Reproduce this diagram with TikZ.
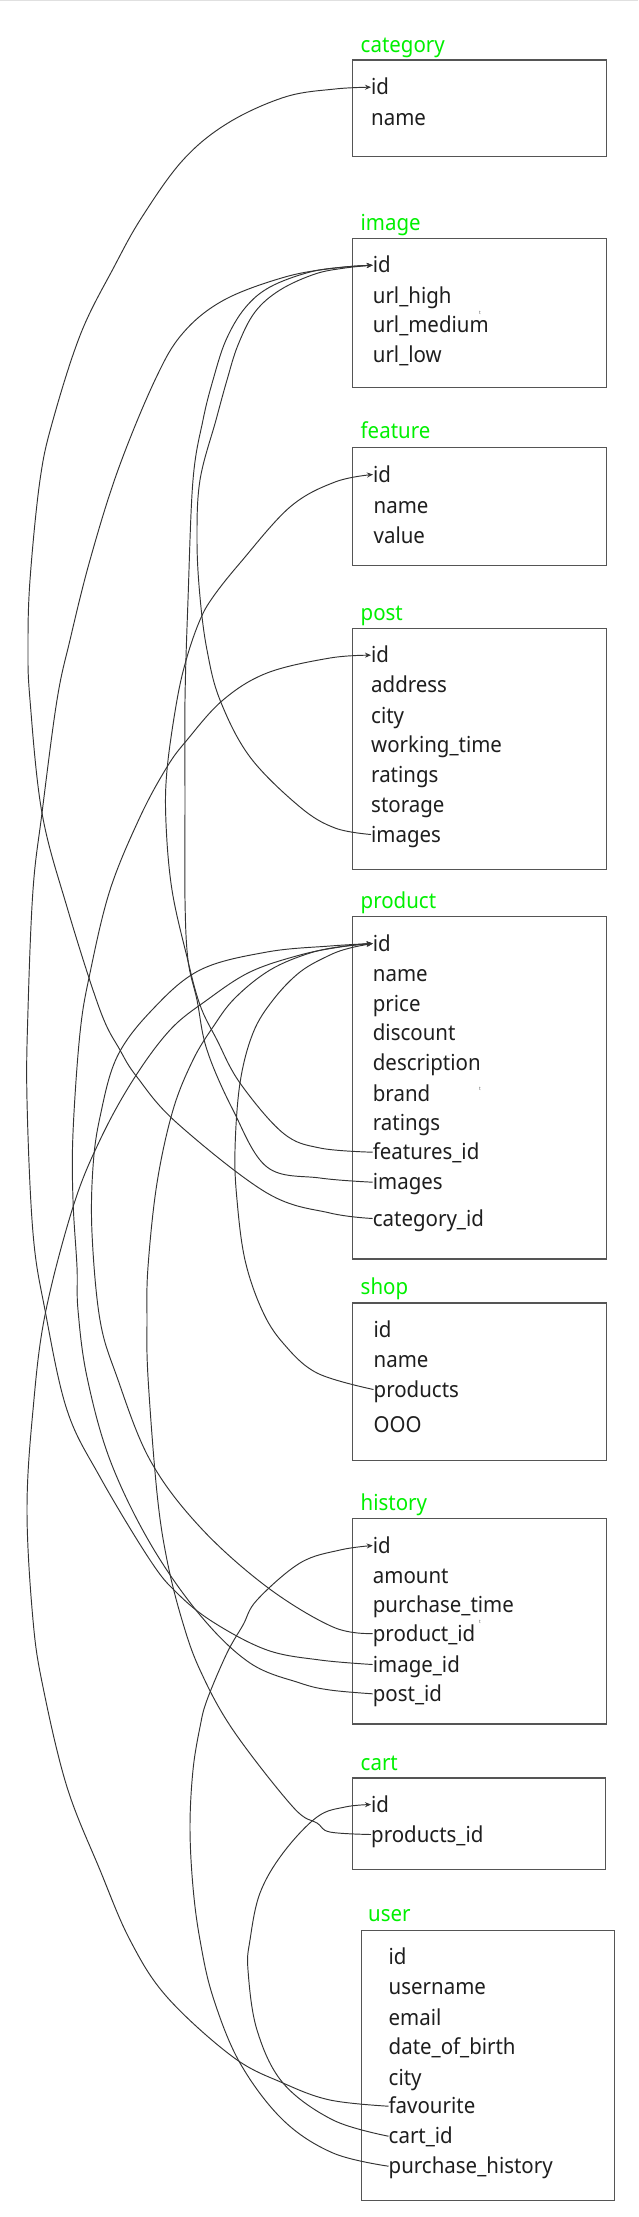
\documentclass[tikz,border=0pt]{standalone}
\usepackage{fontspec}
\newfontfamily\nsans[FakeStretch=0.93]{Noto Sans}
\usetikzlibrary{arrows.meta}
\definecolor{ttlc}{HTML}{00F000}
\definecolor{txtc}{HTML}{1E1E1E}
\definecolor{boxc}{HTML}{555555}
\definecolor{linec}{HTML}{333333}
\tikzset{
  fld/.style={anchor=base west, inner sep=0pt, text height=15pt, text depth=0pt, font=\nsans\fontsize{22}{26}\selectfont, text=txtc},
  ttlst/.style={anchor=base west, inner sep=0pt, font=\nsans\fontsize{22}{26}\selectfont, text=ttlc},
  tbl/.style={draw=boxc, line width=1.3pt, anchor=north west, inner sep=0pt, fill=none},
  tiny/.style={inner sep=0pt, font=\nsans\fontsize{5}{6}\selectfont, text=txtc!70},
  conn/.style={draw=linec, line width=0.95pt},
  arr/.style={conn, -{Stealth[length=6pt,width=5pt]}},
  sm/.style={smooth, tension=0.6}
}
\begin{document}
\begin{tikzpicture}[x=1pt,y=-1pt]
\fill[white] (0,0) rectangle (638,2217);
\useasboundingbox (0,0) rectangle (638,2217);
\draw[black!12, line width=1pt] (0,0.5) -- (638,0.5);

% ---------- tables ----------
\node[tbl, minimum width=254pt, minimum height=96.7pt] (category) at (352,59.3) {};
\node[ttlst] (category-t) at (360.5,52.5) {category};
\node[fld] (ca-id) at (371,94.7) {id};
\node[fld] (ca-name) at (371,125.3) {name};

\node[tbl, minimum width=254pt, minimum height=149.3pt] (image) at (352,237.7) {};
\node[ttlst] (image-t) at (360.5,230) {image};
\node[fld] (im-id) at (372.7,272.7) {id};
\node[fld] (im-high) at (372.7,303) {url\_high};
\node[fld] (im-med) at (372.7,332.7) {url\_medium};
\node[fld] (im-low) at (372.7,362.7) {url\_low};
\node[tiny] (im-t) at (480,313.3) {t};

\node[tbl, minimum width=254pt, minimum height=118.3pt] (feature) at (352,446.7) {};
\node[ttlst] (feature-t) at (360.5,438.3) {feature};
\node[fld] (fe-id) at (373,482) {id};
\node[fld] (fe-name) at (373.5,513) {name};
\node[fld] (fe-value) at (373.5,543.7) {value};

\node[tbl, minimum width=254pt, minimum height=241.3pt] (post) at (352,627.7) {};
\node[ttlst] (post-t) at (360.5,620) {post};
\node[fld] (po-id) at (371,662.7) {id};
\node[fld] (po-address) at (371,692.7) {address};
\node[fld] (po-city) at (371,723) {city};
\node[fld] (po-wt) at (371,752.7) {working\_time};
\node[fld] (po-ratings) at (371,782.7) {ratings};
\node[fld] (po-storage) at (371,812) {storage};
\node[fld] (po-images) at (371,842) {images};

\node[tbl, minimum width=254pt, minimum height=342.3pt] (product) at (352,916) {};
\node[ttlst] (product-t) at (360.5,908) {product};
\node[fld] (pr-id) at (372.7,951) {id};
\node[fld] (pr-name) at (372.7,981) {name};
\node[fld] (pr-price) at (372.7,1011) {price};
\node[fld] (pr-discount) at (372.7,1040.3) {discount};
\node[fld] (pr-desc) at (372.7,1070.3) {description};
\node[fld] (pr-brand) at (372.7,1101) {brand};
\node[fld] (pr-ratings) at (372.7,1130.3) {ratings};
\node[fld] (pr-feat) at (372.7,1159.7) {features\_id};
\node[fld] (pr-images) at (372.7,1189.7) {images};
\node[fld] (pr-cat) at (372.7,1226) {category\_id};
\node[tiny] (pr-t) at (480,1089) {t};

\node[tbl, minimum width=254pt, minimum height=157.7pt] (shop) at (352,1302.3) {};
\node[ttlst] (shop-t) at (360.5,1294.3) {shop};
\node[fld] (sh-id) at (373.5,1337) {id};
\node[fld] (sh-name) at (373.5,1367) {name};
\node[fld] (sh-products) at (373.5,1397) {products};
\node[fld] (sh-ooo) at (373.5,1432.7) {OOO};

\node[tbl, minimum width=254pt, minimum height=205.6pt] (history) at (352,1517.7) {};
\node[ttlst] (history-t) at (360.5,1510.7) {history};
\node[fld] (hi-id) at (372.7,1553) {id};
\node[fld] (hi-amount) at (372.7,1583) {amount};
\node[fld] (hi-time) at (372.7,1612) {purchase\_time};
\node[fld] (hi-product) at (372.7,1641) {product\_id};
\node[fld] (hi-image) at (372.7,1672) {image\_id};
\node[fld] (hi-post) at (372.7,1701.3) {post\_id};
\node[tiny] (hi-t) at (480,1621.7) {t};

\node[tbl, minimum width=253pt, minimum height=91.7pt] (cart) at (352,1777.3) {};
\node[ttlst] (cart-t) at (360.5,1770) {cart};
\node[fld] (ct-id) at (371,1812) {id};
\node[fld] (ct-products) at (371,1842) {products\_id};

\node[tbl, minimum width=253pt, minimum height=270pt] (user) at (360.5,1930) {};
\node[ttlst] (user-t) at (368,1921.7) {user};
\node[fld] (us-id) at (388.5,1964.7) {id};
\node[fld] (us-username) at (388.5,1994.7) {username};
\node[fld] (us-email) at (388.5,2025) {email};
\node[fld] (us-dob) at (388.5,2054.7) {date\_of\_birth};
\node[fld] (us-city) at (388.5,2085) {city};
\node[fld] (us-fav) at (388.5,2113.7) {favourite};
\node[fld] (us-cart) at (388.5,2143.7) {cart\_id};
\node[fld] (us-hist) at (388.5,2173.7) {purchase\_history};

% ---------- connectors ----------
% product.category_id -> category.id
\draw[arr] plot[sm] coordinates {(pr-cat.west) (330,1213) (267,1193) (177,1123) (137,1077) (120,1050) (100,1010) (67,907) (42,813) (30,700) (28,647) (30,580) (40,480) (53,420) (81,333) (114,267) (142,217) (183,160) (228,123) (285,97) (335,89) (ca-id.west)};
% product.images -> image.id
\draw[arr] plot[sm] coordinates {(pr-images.west) (320,1178) (267,1167) (233,1110) (207,1050) (197,1000) (188,960) (185,900) (185,800) (185,700) (188,600) (193,480) (203,420) (213,380) (226,340) (245,308) (270,287) (310,272) (345,267) (im-id.west)};
% post.images -> image.id
\draw[arr] plot[sm] coordinates {(po-images.west) (335,828) (300,807) (250,757) (220,700) (207,650) (200,597) (197,540) (200,480) (216,420) (227,380) (238,345) (255,312) (280,290) (315,274) (345,268) (im-id.west)};
% history.image_id -> image.id
\draw[arr] plot[sm] coordinates {(hi-image.west) (320,1660) (267,1650) (213,1622) (177,1593) (150,1560) (100,1477) (67,1410) (45,1310) (33,1233) (27,1100) (28,1010) (33,890) (42,813) (57,700) (70,640) (90,560) (118,470) (155,380) (183,333) (224,300) (285,277) (335,268) (im-id.west)};
% product.features_id -> feature.id
\draw[arr] plot[sm] coordinates {(pr-feat.west) (320,1148) (283,1133) (240,1083) (217,1040) (200,1005) (187,957) (172,890) (166,823) (167,770) (177,700) (187,657) (200,620) (213,597) (240,563) (290,507) (335,482) (fe-id.west)};
% history.post_id -> post.id
\draw[arr] plot[sm] coordinates {(hi-post.west) (330,1690) (300,1683) (250,1663) (200,1615) (150,1543) (110,1460) (87,1377) (78,1310) (77,1267) (73,1200) (73,1133) (80,1033) (90,973) (110,890) (140,817) (167,767) (187,740) (223,700) (267,673) (330,658) (po-id.west)};
% history.product_id -> product.id
\draw[arr] plot[sm] coordinates {(hi-product.west) (333,1627) (267,1587) (200,1527) (150,1460) (117,1377) (100,1320) (92,1233) (93,1167) (100,1117) (117,1057) (152,1010) (200,970) (267,952) (330,946) (pr-id.west)};
% user.favourite -> product.id
\draw[arr] plot[sm] coordinates {(us-fav.west) (330,2100) (283,2083) (233,2057) (167,1997) (130,1940) (100,1870) (67,1787) (43,1687) (33,1620) (27,1510) (33,1410) (45,1315) (73,1207) (100,1140) (133,1080) (170,1030) (207,1000) (250,972) (300,955) (340,947) (pr-id.west)};
% cart.products_id -> product.id
\draw[arr] plot[sm] coordinates {(ct-products.west) (330,1832) (317,1823) (293,1807) (233,1730) (200,1670) (182,1620) (167,1560) (157,1493) (148,1377) (147,1320) (148,1267) (157,1183) (173,1110) (193,1060) (213,1027) (235,998) (270,970) (310,953) (345,946) (pr-id.west)};
% shop.products -> product.id
\draw[arr] plot[sm] coordinates {(sh-products.west) (317,1373) (283,1343) (262,1310) (245,1260) (237,1200) (235,1150) (240,1083) (253,1033) (273,1000) (300,972) (330,955) (350,948) (pr-id.west)};
% user.cart_id -> cart.id
\draw[arr] plot[sm] coordinates {(us-cart.west) (333,2120) (283,2083) (257,2030) (248,1970) (250,1940) (260,1893) (283,1853) (317,1817) (345,1807) (ct-id.west)};
% user.purchase_history -> history.id
\draw[arr] plot[sm] coordinates {(us-hist.west) (333,2153) (283,2120) (240,2063) (213,1997) (200,1940) (193,1887) (190,1827) (193,1770) (200,1727) (207,1700) (227,1653) (243,1625) (257,1600) (300,1563) (340,1550) (hi-id.west)};
\end{tikzpicture}
\end{document}
